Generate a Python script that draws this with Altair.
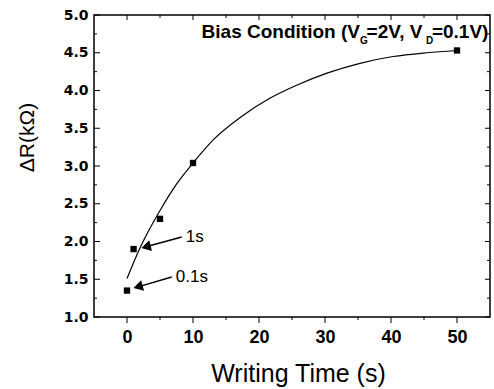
import altair as alt
import pandas as pd

# ---- data ----
time_s = [0, 1, 5, 10, 50]
delta_r = [1.35, 1.90, 2.30, 3.04, 4.53]

fit_t = [0, 2, 5, 7.5, 10, 13.1, 17.1, 21.7, 25.7, 30.3, 35.3, 40.3, 45.4, 50]
fit_r = [1.51, 1.92, 2.41, 2.76, 3.04, 3.35, 3.64, 3.90, 4.07, 4.23, 4.36, 4.45, 4.50, 4.53]

pulse_labels = ["0.1s", "1s"]
head_t = [1.67, 2.88]
head_r = [1.40, 1.93]
tail_t = [6.77, 8.29]
tail_r = [1.53, 2.06]
label_t = [7.4, 8.9]
label_r = [1.526, 2.06]
head_angle = [344, 346]

bias_parts = ["Bias Condition (V", "G", "=2V, V", "D", "=0.1V)"]
bias_t = [11.3, 35.3, 36.3, 45.3, 46.2]
bias_r = [4.69, 4.62, 4.69, 4.62, 4.69]
bias_size = [19, 10, 19, 10, 19]

x_major = [0, 10, 20, 30, 40, 50]
x_minor = [5, 15, 25, 35, 45]
y_major = [1.0, 1.5, 2.0, 2.5, 3.0, 3.5, 4.0, 4.5, 5.0]
y_minor = [1.25, 1.75, 2.25, 2.75, 3.25, 3.75, 4.25, 4.75]

W, H = 396, 302
XS = alt.Scale(domain=[-5, 55], nice=False, zero=False)
YS = alt.Scale(domain=[1, 5], nice=False, zero=False)

X_AXIS = alt.Axis(values=x_major, ticks=False, domain=False, grid=False,
                  labelFont="Liberation Sans", labelFontSize=18, labelFontWeight="bold",
                  labelColor="black", labelPadding=11,
                  titleFont="Liberation Sans", titleFontSize=25, titleFontWeight="normal",
                  titleColor="black", titleY=64, titleX=204, titleBaseline="alphabetic")
Y_AXIS = alt.Axis(values=y_major, format=".1f", ticks=False, domain=False, grid=False,
                  labelFont="DejaVu Sans", labelFontSize=14, labelFontWeight="bold",
                  labelColor="black", labelPadding=6,
                  titleFont="Liberation Sans", titleFontSize=21, titleFontWeight="normal",
                  titleColor="black", titleAngle=270, titleX=-67, titleY=122,
                  titleBaseline="middle", titleAlign="center")


def X():
    return alt.X("t:Q", scale=XS, axis=X_AXIS, title="Writing Time (s)")


def Y():
    return alt.Y("r:Q", scale=YS, axis=Y_AXIS, title="ΔR(kΩ)")


pts = pd.DataFrame({"t": time_s, "r": delta_r})
fit = pd.DataFrame({"t": fit_t, "r": fit_r})
arrows = pd.DataFrame({"t": tail_t, "r": tail_r, "t2": head_t, "r2": head_r})
heads = pd.DataFrame({"t": head_t, "r": head_r, "ang": head_angle})
labels = pd.DataFrame({"t": label_t, "r": label_r, "txt": pulse_labels})
bias = pd.DataFrame({"t": bias_t, "r": bias_r, "txt": bias_parts, "fs": bias_size})

curve = alt.Chart(fit).mark_line(color="black", strokeWidth=1.2, interpolate="monotone").encode(
    x=X(), y=Y())

squares = alt.Chart(pts).mark_point(shape="square", filled=True, color="black", size=40, opacity=1).encode(
    x=X(), y=Y())

arrow_lines = alt.Chart(arrows).mark_rule(color="black", strokeWidth=1.4).encode(
    x=X(), y=Y(), x2="t2:Q", y2="r2:Q")

arrow_heads = alt.Chart(heads).mark_point(shape="triangle-left", filled=True, color="black",
                                          size=120, opacity=1).encode(
    x=X(), y=Y(), angle=alt.Angle("ang:Q", scale=None))

pulse_text = alt.Chart(labels).mark_text(align="left", baseline="middle", font="Liberation Sans",
                                         fontSize=17, color="black").encode(
    x=X(), y=Y(), text="txt:N")

bias_text = alt.Chart(bias).mark_text(align="left", baseline="alphabetic", font="Liberation Sans",
                                      fontWeight="bold", color="black").encode(
    x=X(), y=Y(), text="txt:N", size=alt.Size("fs:Q", scale=None))


def xticks(vals, y0, y1):
    return alt.Chart(pd.DataFrame({"t": vals})).mark_rule(color="black", strokeWidth=1).encode(
        x=X(), y=alt.value(y0), y2=alt.value(y1))


def yticks(vals, x0, x1):
    return alt.Chart(pd.DataFrame({"r": vals})).mark_rule(color="black", strokeWidth=1).encode(
        y=Y(), x=alt.value(x0), x2=alt.value(x1))


tick_layers = [
    xticks(x_major, H, H + 6), xticks(x_minor, H, H + 3),
    xticks(x_major, 0, 5), xticks(x_minor, 0, 3),
    yticks(y_major, 0, 6), yticks(y_minor, 0, 3),
    yticks(y_major, W, W - 5), yticks(y_minor, W, W - 3),
]

chart = alt.layer(curve, arrow_lines, squares, arrow_heads, pulse_text, bias_text,
                  *tick_layers).properties(
    width=W, height=H,
    autosize=alt.AutoSizeParams(type="none"),
    padding={"left": 94, "top": 15, "right": 4, "bottom": 72},
    background="white",
).configure_view(stroke="black", strokeWidth=1.5)

chart.save("out.html", embed_options={"renderer": "svg", "actions": False})
